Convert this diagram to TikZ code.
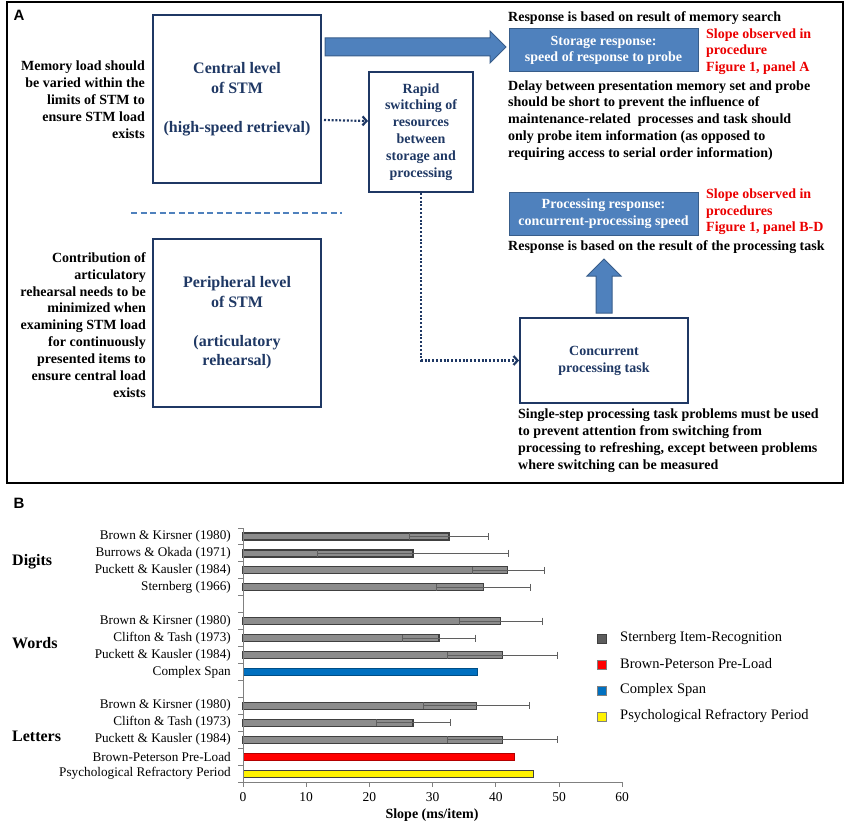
\documentclass[tikz,border=0pt]{standalone}
\usepackage{fontspec}
\setmainfont{Liberation Serif}
\newfontfamily\panelfont{Liberation Sans}
\usetikzlibrary{arrows.meta,calc}

\definecolor{stmnavy}{RGB}{31,56,100}
\definecolor{blockfill}{RGB}{79,129,189}
\definecolor{blockline}{RGB}{56,93,138}
\definecolor{notered}{RGB}{235,0,0}
\definecolor{spanblue}{RGB}{0,112,192}
\definecolor{bargray}{RGB}{140,140,140}
\definecolor{barline}{RGB}{64,64,64}
\definecolor{errgray}{RGB}{95,95,95}
\definecolor{axisgray}{RGB}{128,128,128}

\begin{document}
\begin{tikzpicture}[x=1pt,y=-1pt,>={Straight Barb[length=4pt,width=9pt]},
        stmbox/.style={draw=stmnavy,line width=2pt,text=stmnavy,align=center,
                minimum width=168,minimum height=168,font=\fontsize{16}{19.5}\selectfont\bfseries},
        smallbox/.style={draw=stmnavy,line width=2pt,text=stmnavy,align=center,
                font=\fontsize{14}{16.9}\selectfont\bfseries},
        respbox/.style={fill=blockfill,draw=blockline,line width=1pt,text=white,align=center,
                minimum width=189,minimum height=43,font=\fontsize{14}{16.5}\selectfont\bfseries},
        notetext/.style={inner sep=0pt,font=\fontsize{14}{16.9}\selectfont\bfseries},
        slopetext/.style={inner sep=0pt,anchor=west,align=left,text=notered,
                font=\fontsize{14}{16.5}\selectfont\bfseries},
        dotline/.style={draw=stmnavy,line width=2.2pt,dash pattern=on 2pt off 1.8pt},
        bigarrow/.style={fill=blockfill,draw=blockline,line width=1pt},
        sbar/.style={fill=bargray,draw=barline,line width=1.2pt},
        errbar/.style={draw=errgray,line width=0.8pt,{Bar[width=7pt]}-{Bar[width=7pt]}},
        blab/.style={inner sep=0pt,anchor=east,font=\fontsize{13.2}{15}\selectfont},
        catlab/.style={inner sep=0pt,anchor=west,font=\fontsize{16}{18}\selectfont\bfseries},
        ticklab/.style={inner sep=0pt,font=\fontsize{13.5}{15}\selectfont},
        legtext/.style={inner sep=0pt,anchor=west,font=\fontsize{14.5}{16}\selectfont}]

                        \useasboundingbox (0,0) rectangle (850,824);

                        % panel A
                        \draw[line width=2.5pt] (7,2) rectangle (843,483);
                        \node[font=\panelfont\fontsize{15}{15}\selectfont\bfseries] (labA) at (19,15) {A};

                        \node[stmbox] (central) at (237,99) {Central level\\of STM\\ \\(high-speed retrieval)};
                        \node[stmbox] (periph) at (237,323) {Peripheral level\\of STM\\ \\(articulatory\\rehearsal)};
                        \draw[draw=blockfill,line width=1.5pt,dash pattern=on 6pt off 3.5pt] (131,213)--(342,213);

                        \node[notetext,anchor=east,align=right] (memload) at (145,100)
                                {Memory load should\\be varied within the\\limits of STM to\\ensure STM load\\exists};
                        \node[notetext,anchor=east,align=right] (artic) at (146,325)
                                {Contribution of\\articulatory\\rehearsal needs to be\\minimized when\\examining STM load\\for continuously\\presented items to\\ensure central load\\exists};

                        \node[smallbox,minimum width=104,minimum height=120] (rapid) at (421,132)
                                {Rapid\\switching of\\resources\\between\\storage and\\processing};
                        \node[smallbox,minimum width=168,minimum height=85] (concurrent) at (604,360.5)
                                {Concurrent\\processing task};

                        \node[respbox] (storage) at (603.5,50.5) {Storage response:\\speed of response to probe};
                        \node[respbox] (processing) at (603.5,213.5) {Processing response:\\concurrent-processing speed};

                        \node[slopetext] (slopeA) at (706,51.5) {Slope observed in\\procedure\\Figure 1, panel A};
                        \node[slopetext] (slopeB) at (706,212) {Slope observed in\\procedures\\Figure 1, panel B-D};

                        \node[notetext,anchor=west] (searchnote) at (508,18) {Response is based on result of memory search};
                        \node[notetext,anchor=west,align=left] (delaynote) at (508,120.5)
                                {Delay between presentation memory set and probe\\should be short to prevent the influence of\\maintenance-related \ processes and task should\\only probe item information (as opposed to\\requiring access to serial order information)};
                        \node[notetext,anchor=west] (tasknote) at (508,247) {Response is based on the result of the processing task};
                        \node[notetext,anchor=west,align=left] (stepnote) at (518,441)
                                {Single-step processing task problems must be used\\to prevent attention from switching from\\processing to refreshing, except between problems\\where switching can be measured};

                        % block arrows
                        \draw[bigarrow] ($(central.north east)+(3,24)$) -- ++(165,0) -- ++(0,-7) -- ++(16,16)
                                -- ++(-16,16) -- ++(0,-7) -- ++(-165,0) -- cycle;
                        \draw[bigarrow] ($(concurrent.north)+(-8,-4)$) -- ++(0,-37) -- ++(-9,0) -- ++(17,-17)
                                -- ++(17,17) -- ++(-9,0) -- ++(0,37) -- cycle;

                        % dotted connectors
                        \draw[dotline,->] ($(central.east)+(2,21)$) -- ($(rapid.west)+(0,-11)$);
                        \draw[dotline,->] (rapid.south) |- (concurrent.west);

                        % panel B
                        \node[font=\panelfont\fontsize{15}{15}\selectfont\bfseries] (labB) at (19,503) {B};

                        \node[catlab] (digits) at (12,562) {Digits};
                        \node[catlab] (words) at (12,643) {Words};
                        \node[catlab] (letters) at (12,736) {Letters};

                        \node[blab] at (231,536.5) {Brown \& Kirsner (1980)};
                        \node[blab] at (231,553.4) {Burrows \& Okada (1971)};
                        \node[blab] at (231,570.3) {Puckett \& Kausler (1984)};
                        \node[blab] at (231,587.3) {Sternberg (1966)};
                        \node[blab] at (231,621.1) {Brown \& Kirsner (1980)};
                        \node[blab] at (231,638.0) {Clifton \& Tash (1973)};
                        \node[blab] at (231,655.0) {Puckett \& Kausler (1984)};
                        \node[blab] at (231,671.9) {Complex Span};
                        \node[blab] at (231,705.8) {Brown \& Kirsner (1980)};
                        \node[blab] at (231,722.7) {Clifton \& Tash (1973)};
                        \node[blab] at (231,739.6) {Puckett \& Kausler (1984)};
                        \node[blab] at (231,756.6) {Brown-Peterson Pre-Load};
                        \node[blab] at (231,773.5) {Psychological Refractory Period};

                        \begin{scope}[xshift=243pt,x=6.32pt]
                        \draw[sbar] (0,533.0) rectangle (32.6,540.0);
                        \draw[sbar] (0,549.9) rectangle (26.9,556.9);
                        \draw[sbar] (0,566.8) rectangle (41.9,573.8);
                        \draw[sbar] (0,583.8) rectangle (38.0,590.8);
                        \draw[sbar] (0,617.6) rectangle (40.8,624.6);
                        \draw[sbar] (0,634.5) rectangle (31.0,641.5);
                        \draw[sbar] (0,651.5) rectangle (41.0,658.5);
                        \draw[fill=spanblue,draw=spanblue!70!black,line width=0.6pt] (0,668.4) rectangle (37.0,675.4);
                        \draw[sbar] (0,702.3) rectangle (37.0,709.3);
                        \draw[sbar] (0,719.2) rectangle (26.9,726.2);
                        \draw[sbar] (0,736.1) rectangle (41.0,743.1);
                        \draw[fill=red,draw=red!70!black,line width=0.6pt] (0,753.1) rectangle (43.0,760.1);
                        \draw[fill=yellow,draw=barline,line width=0.8pt] (0,770.0) rectangle (46.0,777.0);

                        \draw[errbar] (26.3,536.5)--(38.9,536.5);
                        \draw[errbar] (11.7,553.4)--(42.1,553.4);
                        \draw[errbar] (36.2,570.3)--(47.8,570.3);
                        \draw[errbar] (30.5,587.3)--(45.6,587.3);
                        \draw[errbar] (34.2,621.1)--(47.5,621.1);
                        \draw[errbar] (25.1,638.0)--(36.9,638.0);
                        \draw[errbar] (32.2,655.0)--(49.8,655.0);
                        \draw[errbar] (28.5,705.8)--(45.4,705.8);
                        \draw[errbar] (21.0,722.7)--(32.9,722.7);
                        \draw[errbar] (32.2,739.6)--(49.8,739.6);

                        % axes
                        \draw[axisgray,line width=1pt] (0,528)--(0,782)--(60,782);
                        \draw[axisgray,line width=1pt] (0,528)--(-0.8,528) (0,544.9)--(-0.8,544.9) (0,561.9)--(-0.8,561.9)
                                (0,578.8)--(-0.8,578.8) (0,595.7)--(-0.8,595.7) (0,612.7)--(-0.8,612.7)
                                (0,629.6)--(-0.8,629.6) (0,646.5)--(-0.8,646.5) (0,663.4)--(-0.8,663.4)
                                (0,680.4)--(-0.8,680.4) (0,697.3)--(-0.8,697.3) (0,714.2)--(-0.8,714.2)
                                (0,731.2)--(-0.8,731.2) (0,748.1)--(-0.8,748.1) (0,765.0)--(-0.8,765.0)
                                (0,782)--(-0.8,782);
                        \draw[axisgray,line width=1pt] (0,782)--(0,787) (10,782)--(10,787) (20,782)--(20,787)
                                (30,782)--(30,787) (40,782)--(40,787) (50,782)--(50,787) (60,782)--(60,787);

                        \node[ticklab] at (0,797) {0};
                        \node[ticklab] at (10,797) {10};
                        \node[ticklab] at (20,797) {20};
                        \node[ticklab] at (30,797) {30};
                        \node[ticklab] at (40,797) {40};
                        \node[ticklab] at (50,797) {50};
                        \node[ticklab] at (60,797) {60};
                        \end{scope}

                        \node[inner sep=0pt,font=\fontsize{14}{15}\selectfont\bfseries] (slopeaxis) at (432,815) {Slope (ms/item)};

                        % legend
                        \draw[fill=barline!85,draw=barline] (597,634) rectangle (606,643);
                        \draw[fill=red,draw=gray] (597,660) rectangle (606,669);
                        \draw[fill=spanblue,draw=gray] (597,686) rectangle (606,695);
                        \draw[fill=yellow,draw=gray] (597,712) rectangle (606,721);
                        \node[legtext] at (620,638) {Sternberg Item-Recognition};
                        \node[legtext] at (620,664) {Brown-Peterson Pre-Load};
                        \node[legtext] at (620,690) {Complex Span};
                        \node[legtext] at (620,716) {Psychological Refractory Period};
                    \end{tikzpicture}
\end{document}
